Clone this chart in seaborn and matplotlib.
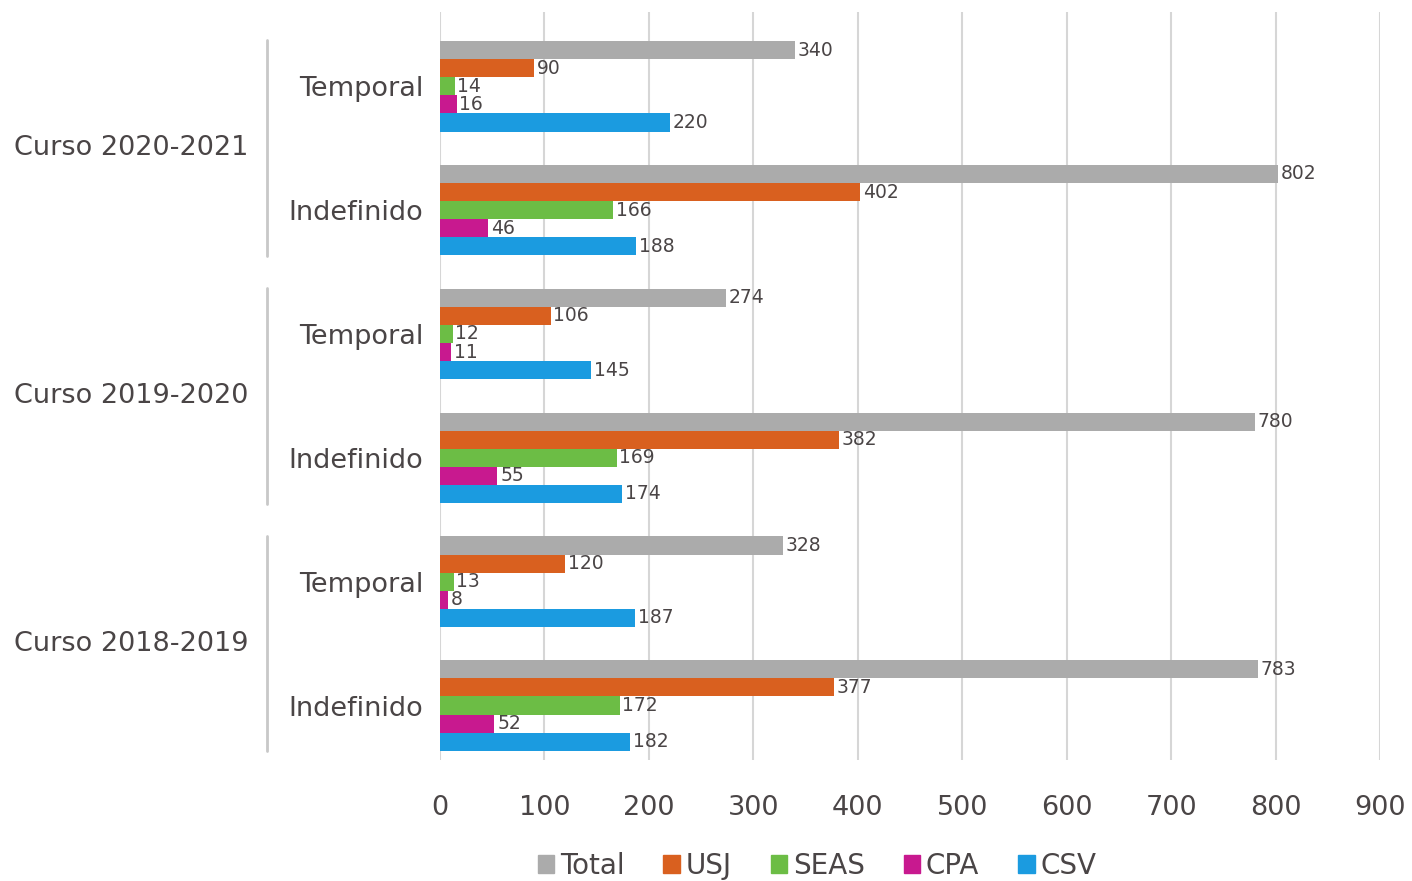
import pandas as pd
import numpy as np
import matplotlib.pyplot as plt
import seaborn as sns

# Data
courses = ["Curso 2020-2021", "Curso 2019-2020", "Curso 2018-2019"]
contract_types = ["Temporal", "Indefinido"]
series = ["Total", "USJ", "SEAS", "CPA", "CSV"]
colors = ["#ababab", "#d9601f", "#6cbd45", "#c8198f", "#1b9be0"]

total = [340, 802, 274, 780, 328, 783]
usj = [90, 402, 106, 382, 120, 377]
seas = [14, 166, 12, 169, 13, 172]
cpa = [16, 46, 11, 55, 8, 52]
csv = [220, 188, 145, 174, 187, 182]

text_color = "#4a4546"

# Build long table
rows = []
keys = [f"{c}|{t}" for c in courses for t in contract_types]
for name, vals in zip(series, [total, usj, seas, cpa, csv]):
    for k, v in zip(keys, vals):
        rows.append({"grupo": k, "serie": name, "valor": v})
df = pd.DataFrame(rows)

sns.set_theme(style="white")
plt.rcParams['font.family'] = ['DejaVu Sans']

fig = plt.figure(figsize=(14.12, 8.81), dpi=100)
ax = fig.add_axes([440 / 1412, 1 - 760 / 881, 940 / 1412, 748 / 881])

sns.barplot(data=df, y="grupo", x="valor", hue="serie", order=keys,
            hue_order=series, palette=colors, orient="h", width=0.73,
            saturation=1, linewidth=0, ax=ax, legend=False)

for cont in ax.containers:
    ax.bar_label(cont, padding=2, fontsize=13.5, color=text_color)

ax.set_xlim(0, 900)
ax.set_ylim(5.44, -0.6)
ax.set_xticks(range(0, 1000, 100))
ax.xaxis.grid(True, color="#d6d6d6", lw=1.5)
ax.set_axisbelow(True)
for s in ax.spines.values():
    s.set_visible(False)
ax.set_xlabel("")
ax.set_ylabel("")
ax.set_yticks(range(len(keys)))
ax.set_yticklabels([k.split("|")[1] for k in keys])
ax.tick_params(axis="y", length=0, pad=12, labelsize=19.5, labelcolor=text_color)
ax.tick_params(axis="x", length=0, pad=25, labelsize=19.5, labelcolor=text_color)

# course labels and separators
tr = ax.get_yaxis_transform()
for i, c in enumerate(courses):
    mid = 2 * i + 0.5
    ax.text(-0.204, mid, c, transform=tr, ha="right", va="center",
            fontsize=19.5, color=text_color)
    ax.plot([-0.184, -0.184], [mid - 0.87, mid + 0.87], transform=tr,
            color="#c8c8c8", lw=2, clip_on=False)

# legend at the bottom
handles = [plt.Rectangle((0, 0), 1, 1, color=c) for c in colors]
fig.legend(handles, series, loc="center", bbox_to_anchor=(817 / 1412, 1 - 866 / 881),
           ncol=5, frameon=False, fontsize=20, handlelength=0.6, handleheight=0.6,
           handletextpad=0.2, columnspacing=1.4, labelcolor=text_color)

fig.savefig("out.png", dpi=100)
